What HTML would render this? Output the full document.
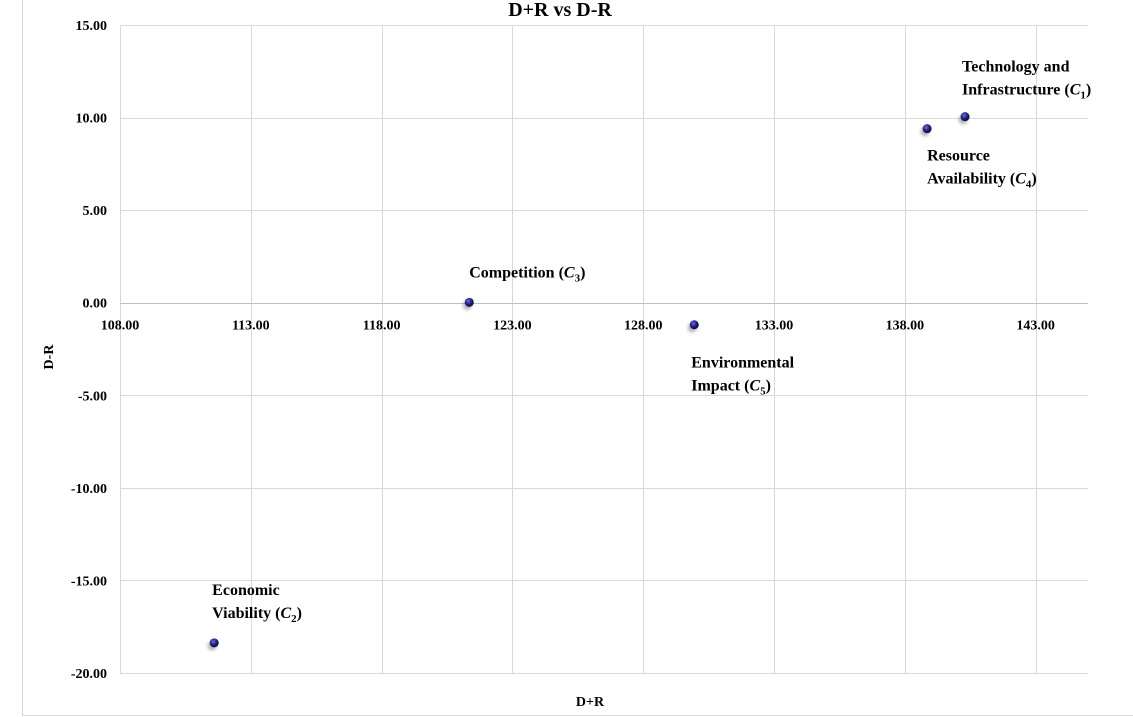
<!DOCTYPE html>
<html><head><meta charset="utf-8"><style>
html,body{margin:0;padding:0;background:#fff;}
svg{display:block;font-family:"Liberation Serif",serif;font-weight:bold;}
</style></head><body>
<svg id="chart" width="1133" height="717">
<defs><radialGradient id="dot" cx="40%" cy="35%" r="65%"><stop offset="0" stop-color="#6a6ad8"/><stop offset="0.6" stop-color="#1d1d7a"/><stop offset="1" stop-color="#0b0b40"/></radialGradient>
<filter id="sh" x="-1" y="-1" width="3" height="3"><feDropShadow dx="-2" dy="3" stdDeviation="1.5" flood-color="#000" flood-opacity="0.3"/></filter></defs>
<line x1="22.5" y1="0" x2="22.5" y2="716" stroke="#d9d9d9"/>
<line x1="22" y1="715.5" x2="1133" y2="715.5" stroke="#d9d9d9"/>
<text x="560" y="16" text-anchor="middle" font-size="20">D+R vs D-R</text>
<g id="grid"></g><g id="ticks"></g><g id="pts"></g>
<text x="590" y="706" text-anchor="middle" font-size="14">D+R</text>
<text transform="translate(53,357) rotate(-90)" text-anchor="middle" font-size="14">D-R</text>
</svg>
<script>
const xTicks=[108,113,118,123,128,133,138,143];
const yTicks=[15,10,5,0,-5,-10,-15,-20];
const names=["Technology and|Infrastructure","Economic|Viability","Competition","Resource|Availability","Environmental|Impact"];
const subs=["1","2","3","4","5"];
const dPlusR=[140.3,111.6,121.35,138.85,129.95];
const dMinusR=[10.05,-18.37,0.02,9.4,-1.19];
const X0=120,X1=1088,Y0=25,Y1=673,xMin=108,xMax=145,yMin=-20,yMax=15;
const sx=v=>X0+(v-xMin)/(xMax-xMin)*(X1-X0);
const sy=v=>Y1-(v-yMin)/(yMax-yMin)*(Y1-Y0);
const NS="http://www.w3.org/2000/svg";
function mk(t,a,p){const e=document.createElementNS(NS,t);for(const k in a)e.setAttribute(k,a[k]);p.appendChild(e);return e;}
const grid=document.getElementById('grid'),ticks=document.getElementById('ticks'),pts=document.getElementById('pts');
let l=mk('line',{x1:X0+.5,x2:X0+.5,y1:Y0,y2:Y1,stroke:'#d9d9d9'},grid);


xTicks.forEach(v=>{const x=Math.round(sx(v))+.5;
 const g=mk('line',{x1:x,x2:x,y1:Y0,y2:Y1,stroke:'#d9d9d9'},grid);
 
 
 const t=mk('text',{x:sx(v),y:sy(0)+27,'text-anchor':'middle','font-size':14},ticks);t.textContent=v.toFixed(2);
 
 
});
yTicks.forEach(v=>{const y=Math.round(sy(v))+.5;
 const g=mk('line',{x1:X0,x2:X1,y1:y,y2:y,stroke:v===0?'#bfbfbf':'#d9d9d9'},grid);
 
 
 const t=mk('text',{x:107,y:sy(v)+5,'text-anchor':'end','font-size':14},ticks);t.textContent=v.toFixed(2);
 
 
});
const off=[[-3,-45],[-2,-48],[0,-25],[0,32],[-3,43]];
dPlusR.forEach((v,i)=>{const cx=sx(v),cy=sy(dMinusR[i]);
 const c=mk('circle',{cx:cx,cy:cy,r:4.5,fill:'url(#dot)',filter:'url(#sh)'},pts);
 
 
 const lines=names[i].split('|');const lx=cx+off[i][0],ly=cy+off[i][1];
 lines.forEach((s,j)=>{const t=mk('text',{x:lx,y:ly+j*23,'font-size':16},pts);
  t.textContent=s;
  if(j===lines.length-1){const ts=document.createElementNS(NS,'tspan');ts.textContent=' (';t.appendChild(ts);
   const c2=document.createElementNS(NS,'tspan');c2.setAttribute('font-style','italic');c2.textContent='C';t.appendChild(c2);
   const s2=document.createElementNS(NS,'tspan');s2.setAttribute('font-size','11');s2.setAttribute('dy','4');s2.textContent=subs[i];t.appendChild(s2);
   const cl=document.createElementNS(NS,'tspan');cl.setAttribute('dy','-4');cl.textContent=')';t.appendChild(cl);}
  
  
 });
});
</script>
</body></html>
